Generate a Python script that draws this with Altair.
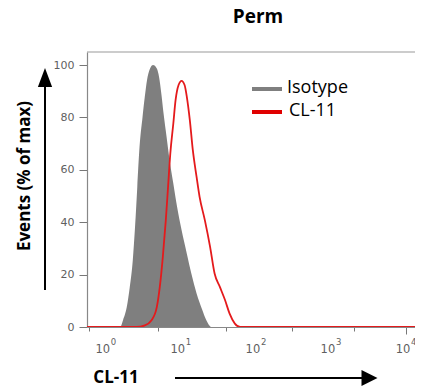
import altair as alt
import pandas as pd
import numpy as np

# x values are in decades (log10 of CL-11 fluorescence), y in % of max
iso_x = [-0.25, 0.19, 0.23, 0.28, 0.32, 0.36, 0.39, 0.42, 0.45, 0.49, 0.52, 0.55, 0.59, 0.63, 0.68,
         0.71, 0.74, 0.77, 0.81, 0.85, 0.90, 0.95, 1.01, 1.08, 1.14, 1.21, 1.28, 1.34, 1.41, 4.12]
iso_y = [0, 0, 2.6, 7.6, 15.3, 25.5, 38.2, 53.5, 68.8, 80.2, 87.9, 94.3, 98.7, 100, 98.7,
         95.5, 89.2, 81.5, 72.6, 63.7, 54.8, 45.9, 37.0, 28.0, 20.4, 12.8, 7.0, 2.6, 0, 0]

cl_x = [-0.25, 0.41, 0.52, 0.61, 0.68, 0.72, 0.76, 0.80, 0.83, 0.86, 0.90, 0.93, 0.97, 1.01, 1.05,
        1.08, 1.12, 1.16, 1.21, 1.25, 1.32, 1.39, 1.45, 1.52, 1.59, 1.65, 1.72, 1.79, 4.12]
cl_y = [0, 0, 0.6, 2.6, 7.6, 15.3, 26.7, 40.8, 53.5, 66.3, 77.7, 86.6, 92.4, 94.0, 92.4,
        87.9, 79.0, 67.5, 57.3, 49.7, 40.8, 30.6, 20.4, 15.3, 10.2, 5.1, 1.3, 0, 0]

decades = [0, 1, 2, 3, 4]
base_labels = ["10", "10", "10", "10", "10"]
exp_labels = ["0", "1", "2", "3", "4"]
y_ticks = list(range(0, 105, 5))
x_domain = [-0.25, 4.12]
y_domain = [0, 105]

legend_names = ["Isotype", "CL-11"]
legend_colors = ["#7f7f7f", "#e00000"]

W, H = 328, 275

x_ticks = sorted(set([round(k + np.log10(m), 4) for k in range(-1, 5) for m in range(1, 10)
                      if x_domain[0] <= k + np.log10(m) <= x_domain[1]]))

xscale = alt.Scale(domain=x_domain, nice=False, zero=False)
yscale = alt.Scale(domain=y_domain, nice=False)

x_axis = alt.Axis(
    values=x_ticks, title=None, grid=False, labels=False,
    tickSize={"condition": {"test": "abs(datum.value - round(datum.value)) < 0.001", "value": 7}, "value": 4},
    tickColor="#777777", domainColor="#888888", domainWidth=1.2,
)
y_axis = alt.Axis(
    values=y_ticks, title=None, grid=False,
    labelExpr="datum.value % 20 === 0 ? datum.label : ''",
    labelOverlap=False, labelFlush=False, labelFont="DejaVu Sans", labelFontSize=11,
    labelColor="#5f5f5f", labelPadding=5,
    tickSize={"condition": {"test": "datum.value % 20 === 0", "value": 8}, "value": 4},
    tickColor="#777777", domainColor="#888888", domainWidth=1.2,
)

iso_df = pd.DataFrame({"x": iso_x, "y": iso_y})
cl_df = pd.DataFrame({"x": cl_x, "y": cl_y})
tick_df = pd.DataFrame({"x": decades, "base": base_labels, "exp": exp_labels})

area = alt.Chart(iso_df).mark_area(color=legend_colors[0], interpolate="monotone", clip=True).encode(
    x=alt.X("x:Q", scale=xscale, axis=x_axis),
    y=alt.Y("y:Q", scale=yscale, axis=y_axis),
)
line = alt.Chart(cl_df).mark_line(color="#e41a1c", strokeWidth=1.8, interpolate="monotone", clip=True).encode(
    x=alt.X("x:Q", scale=xscale),
    y=alt.Y("y:Q", scale=yscale),
)

xlab_base = alt.Chart(tick_df).mark_text(font="DejaVu Sans", fontSize=11.5, color="#5f5f5f",
                                         align="center", baseline="middle", dx=-3).encode(
    x=alt.X("x:Q", scale=xscale), y=alt.value(H + 23), text="base:N")
xlab_exp = alt.Chart(tick_df).mark_text(font="DejaVu Sans", fontSize=8.5, color="#5f5f5f",
                                        align="left", baseline="middle", dx=5).encode(
    x=alt.X("x:Q", scale=xscale), y=alt.value(H + 15), text="exp:N")

one = alt.Data(values=[{}])

top_rule = alt.Chart(one).mark_rule(color="#999999", strokeWidth=1).encode(
    x=alt.value(0), x2=alt.value(W), y=alt.value(0))

leg_layers = []
leg_y = [37, 60]
for i in range(len(legend_names)):
    leg_layers.append(alt.Chart(one).mark_rule(strokeWidth=4, color=legend_colors[i]).encode(
        x=alt.value(165), x2=alt.value(195), y=alt.value(leg_y[i])))
    leg_layers.append(alt.Chart(one).mark_text(align="left", baseline="middle", font="Open Sans",
                                               fontSize=18, color="black").encode(
        x=alt.value(200 + 2 * i), y=alt.value(leg_y[i] - 1), text=alt.value(legend_names[i])))

title_t = alt.Chart(one).mark_text(font="Open Sans", fontWeight="bold", fontSize=19,
                                   align="center", baseline="alphabetic").encode(
    x=alt.value(171), y=alt.value(-29), text=alt.value("Perm"))
ytitle = alt.Chart(one).mark_text(font="Open Sans", fontWeight="bold", fontSize=17, angle=270,
                                  align="center", baseline="middle").encode(
    x=alt.value(-62), y=alt.value(124), text=alt.value("Events (% of max)"))
xtitle = alt.Chart(one).mark_text(font="Open Sans", fontWeight="bold", fontSize=17,
                                  align="center", baseline="middle").encode(
    x=alt.value(29), y=alt.value(326), text=alt.value("CL-11"))

yarrow = alt.Chart(one).mark_rule(color="black", strokeWidth=2).encode(
    x=alt.value(-42), y=alt.value(33), y2=alt.value(238))
yhead = alt.Chart(one).mark_point(shape="M0,-1L0.75,1L-0.75,1Z", filled=True, color="black",
                                  size=361, opacity=1).encode(
    x=alt.value(-42), y=alt.value(25.5))
xarrow = alt.Chart(one).mark_rule(color="black", strokeWidth=2).encode(
    x=alt.value(88), x2=alt.value(277), y=alt.value(326))
xhead = alt.Chart(one).mark_point(shape="M1,0L-1,-1L-1,1Z", filled=True, color="black",
                                  size=256, opacity=1).encode(
    x=alt.value(282.5), y=alt.value(326))

chart = alt.layer(
    area, line, xlab_base, xlab_exp, top_rule, *leg_layers, title_t, ytitle, xtitle,
    yarrow, yhead, xarrow, xhead
).properties(
    width=W, height=H,
    autosize="none",
    padding={"left": 79, "top": 44, "right": 0, "bottom": 62},
).configure_view(strokeWidth=0)

chart.save("out.html", embed_options={"renderer": "svg", "actions": False})
